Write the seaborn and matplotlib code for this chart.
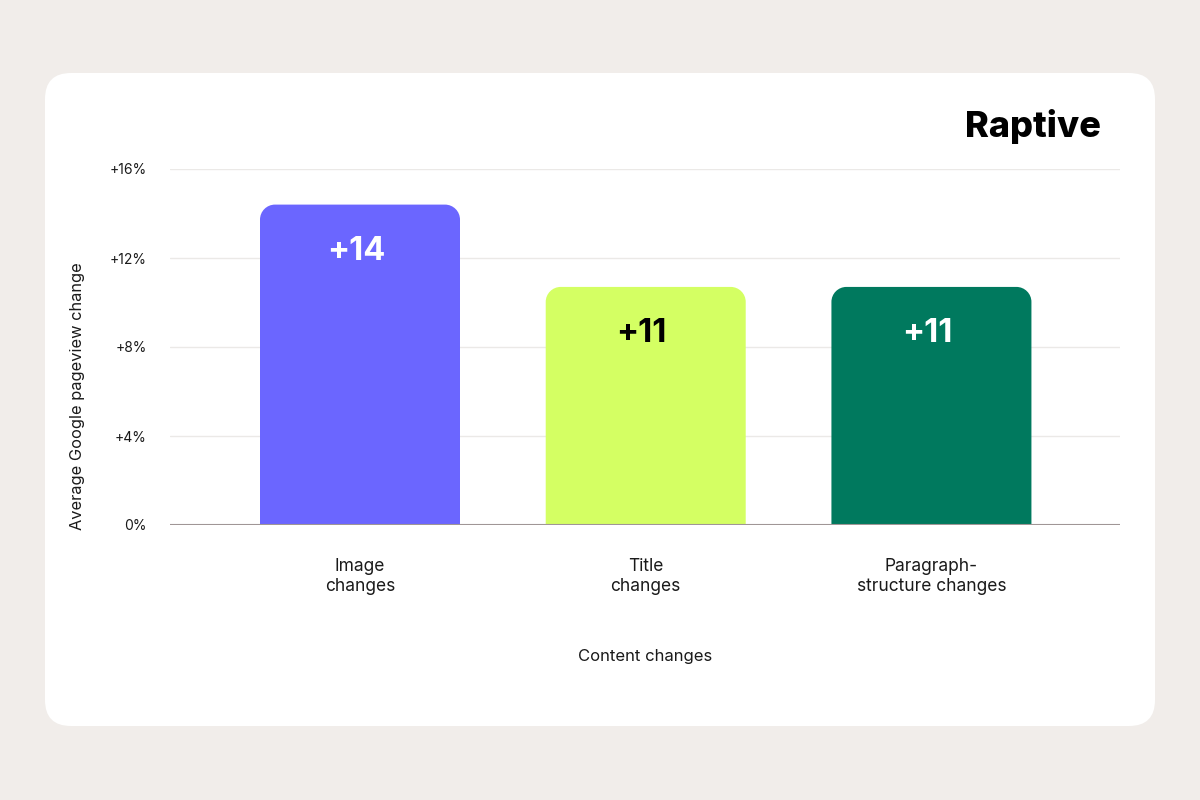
import numpy as np
import matplotlib
matplotlib.use("Agg")
import matplotlib.pyplot as plt
import matplotlib.patches as mpatches
from matplotlib.path import Path
import seaborn as sns

# data
categories = ["Image\nchanges", "Title\nchanges", "Paragraph-\nstructure changes"]
values = [14.4, 10.7, 10.7]
labels = ["+14", "+11", "+11"]
colors = ["#6b66ff", "#d4ff63", "#00795e"]
label_colors = ["white", "black", "white"]
yticks = [0, 4, 8, 12, 16]
ytick_labels = ["0%", "+4%", "+8%", "+12%", "+16%"]

sns.set_theme(style="white")
plt.rcParams["font.family"] = ["Inter", "DejaVu Sans"]

fig = plt.figure(figsize=(12, 8), dpi=100)
fig.patch.set_facecolor("#f1edea")

# white card behind everything (pixel coords)
bg = fig.add_axes([0, 0, 1, 1], zorder=0)
bg.set_xlim(0, 1200)
bg.set_ylim(800, 0)
bg.axis("off")
card = mpatches.FancyBboxPatch((45, 73), 1110, 653,
                               boxstyle="round,pad=0,rounding_size=26",
                               facecolor="white", edgecolor="none")
bg.add_patch(card)

ax = fig.add_axes([170 / 1200, 1 - 525 / 800, 950 / 1200, 356 / 800], zorder=1)
ax.patch.set_alpha(0)

df = {"cat": categories, "val": values}
sns.barplot(x="cat", y="val", hue="cat", data=df, palette=colors,
            width=0.7, legend=False, ax=ax, saturation=1)

ax.set_ylim(0, 16)
ax.set_xlim(-0.665, 2.66)

# rounded top corners
r_px = 15
rx = r_px / 286.0
ry = r_px / (356 / 16)
k = 0.5523
for p in list(ax.patches):
    x0 = p.get_x()
    w = p.get_width()
    h = p.get_height()
    x1 = x0 + w
    fc = p.get_facecolor()
    p.set_visible(False)
    verts = [(x0, 0), (x0, h - ry),
             (x0, h - ry * (1 - k)), (x0 + rx * (1 - k), h), (x0 + rx, h),
             (x1 - rx, h),
             (x1 - rx * (1 - k), h), (x1, h - ry * (1 - k)), (x1, h - ry),
             (x1, 0), (x0, 0)]
    codes = [Path.MOVETO, Path.LINETO,
             Path.CURVE4, Path.CURVE4, Path.CURVE4,
             Path.LINETO,
             Path.CURVE4, Path.CURVE4, Path.CURVE4,
             Path.LINETO, Path.CLOSEPOLY]
    ax.add_patch(mpatches.PathPatch(Path(verts, codes), facecolor=fc,
                                    edgecolor="none", zorder=3))

for i, (v, lab, lc) in enumerate(zip(values, labels, label_colors)):
    ax.annotate(lab, (i, v), xytext=(-4, -47), textcoords="offset pixels",
                ha="center", va="center", color=lc, fontsize=23.5,
                fontweight="bold", zorder=4)

# grid + baseline
for t in yticks[1:]:
    ax.axhline(t, color="#ebe9e7", lw=1, zorder=1)
ax.axhline(0, color="#a09696", lw=1.5, zorder=5)

ax.set_yticks(yticks)
ax.set_yticklabels(ytick_labels, fontsize=10, color="#1a1a1a")
ax.tick_params(axis="y", length=0, pad=17)
ax.tick_params(axis="x", length=0, pad=24)
for lbl in ax.get_xticklabels():
    lbl.set_fontsize(12.5)
    lbl.set_color("#1a1a1a")
    lbl.set_linespacing(1.2)
ax.set_xlabel("")
ax.set_ylabel("")
sns.despine(ax=ax, left=True, bottom=True)

fig.text(645 / 1200, 1 - 656 / 800, "Content changes", ha="center", va="center",
         fontsize=12, color="#1a1a1a")
fig.text(78 / 1200, 1 - 396 / 800, "Average Google pageview change", rotation=90,
         ha="center", va="center", fontsize=11.8, color="#1a1a1a")
fig.text(1101 / 1200, 1 - 127 / 800, "Raptive", ha="right", va="center",
         fontsize=26, fontweight="heavy", color="black")

fig.savefig("out.png", dpi=100, facecolor=fig.get_facecolor())
